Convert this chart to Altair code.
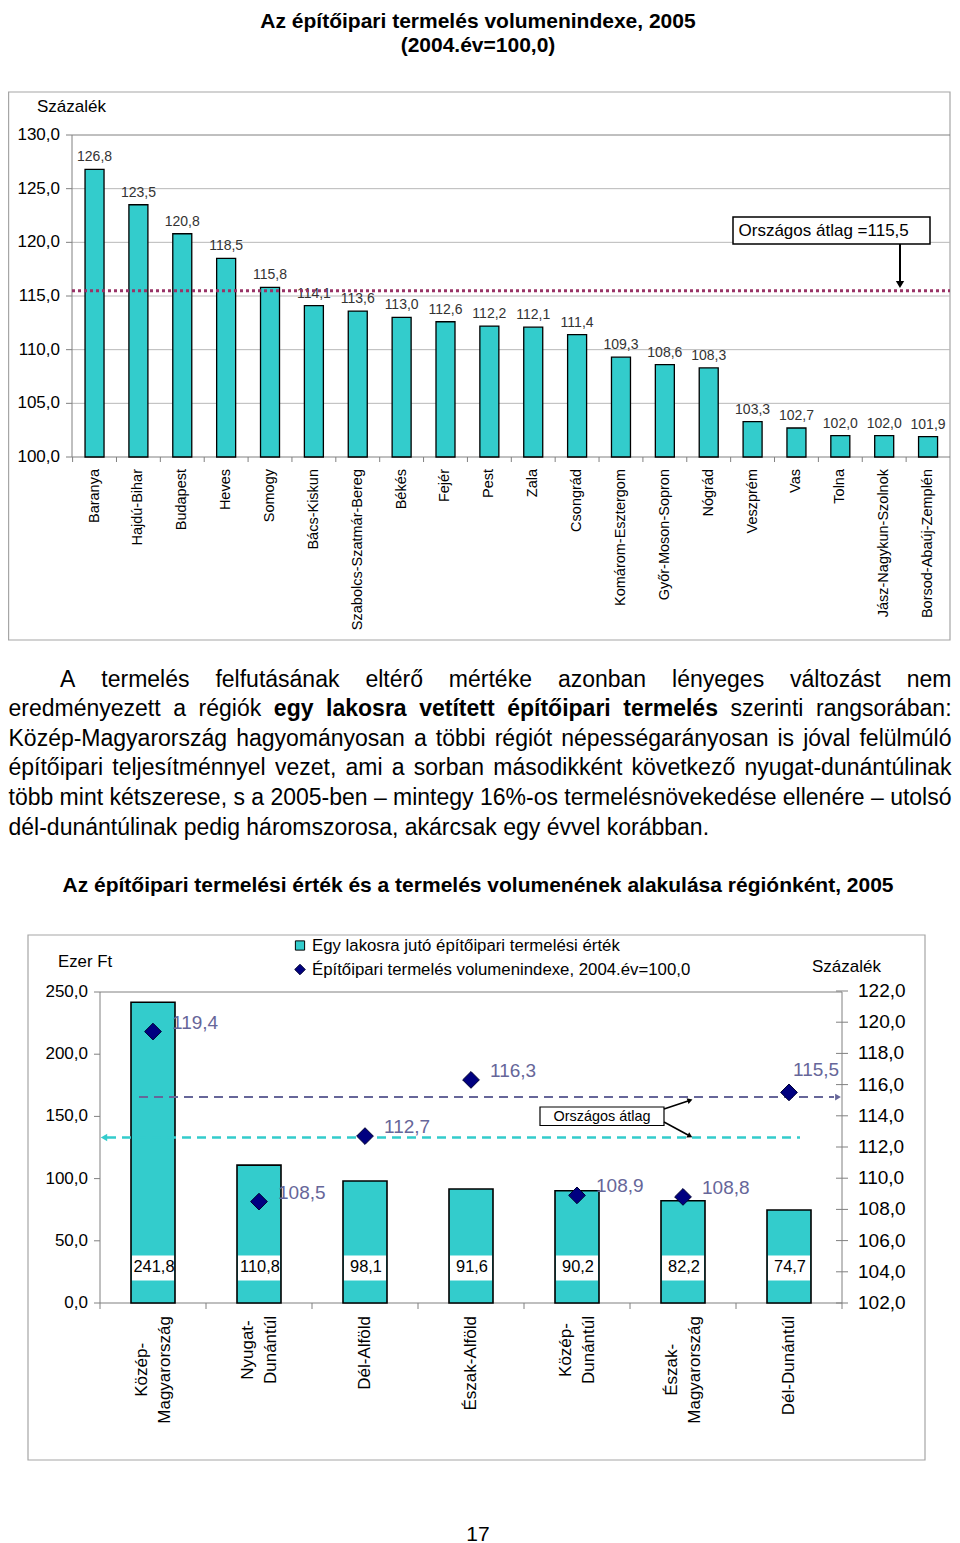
import unicodedata
import altair as alt
import pandas as pd

# ---------------- data ----------------
title1 = ["Az építőipari termelés volumenindexe, 2005", "(2004.év=100,0)"]
counties = ["Baranya", "Hajdú-Bihar", "Budapest", "Heves", "Somogy", "Bács-Kiskun",
            "Szabolcs-Szatmár-Bereg", "Békés", "Fejér", "Pest", "Zala", "Csongrád",
            "Komárom-Esztergom", "Győr-Moson-Sopron", "Nógrád", "Veszprém", "Vas",
            "Tolna", "Jász-Nagykun-Szolnok", "Borsod-Abaúj-Zemplén"]
county_index = [126.8, 123.5, 120.8, 118.5, 115.8, 114.1, 113.6, 113.0, 112.6, 112.2,
                112.1, 111.4, 109.3, 108.6, 108.3, 103.3, 102.7, 102.0, 102.0, 101.9]
national_index = 115.5
ticks1 = [100.0, 105.0, 110.0, 115.0, 120.0, 125.0, 130.0]
axis1_title = "Százalék"
note1 = "Országos átlag =115,5"

paragraph = [
    "A termelés felfutásának eltérő mértéke azonban lényeges változást nem",
    "eredményezett a régiók *egy lakosra vetített építőipari termelés* szerinti rangsorában:",
    "Közép-Magyarország hagyományosan a többi régiót népességarányosan is jóval felülmúló",
    "építőipari teljesítménnyel vezet, ami a sorban másodikként következő nyugat-dunántúlinak",
    "több mint kétszerese, s a 2005-ben – mintegy 16%-os termelésnövekedése ellenére – utolsó",
    "dél-dunántúlinak pedig háromszorosa, akárcsak egy évvel korábban.",
]

title2 = "Az építőipari termelési érték és a termelés volumenének alakulása régiónként, 2005"
regions = ["Közép-Magyarország", "Nyugat-Dunántúl", "Dél-Alföld", "Észak-Alföld",
           "Közép-Dunántúl", "Észak-Magyarország", "Dél-Dunántúl"]
region_labels = ["Közép-\nMagyarország", "Nyugat-\nDunántúl", "Dél-Alföld", "Észak-Alföld",
                 "Közép-\nDunántúl", "Észak-\nMagyarország", "Dél-Dunántúl"]
per_capita = [241.8, 110.8, 98.1, 91.6, 90.2, 82.2, 74.7]
volume = [119.4, 108.5, 112.7, 116.3, 108.9, 108.8, 115.5]
avg_per_capita = 133.0
avg_volume = 115.2
ticks_left = [0, 50, 100, 150, 200, 250]
ticks_right = [102, 104, 106, 108, 110, 112, 114, 116, 118, 120, 122]
legend2 = ["Egy lakosra jutó építőipari termelési érték",
           "Építőipari termelés volumenindexe, 2004.év=100,0"]
left_title2 = "Ezer Ft"
right_title2 = "Százalék"
note2 = "Országos átlag"
page_number = "17"

# ---------------- styling helpers ----------------
TEAL = "#33CCCC"
NAVY = "#000080"
SLATE = "#666699"
GRAY = "#808080"
FONT = "Liberation Sans"
PARA_SIZE = 23


def P(v):
    """page pixel -> canvas pixel (page has an 8px margin)"""
    return v - 8


def hu(v):
    return f"{v:.1f}".replace(".", ",")


_lower_n = [556, 556, 500, 556, 556, 278, 556, 556, 222, 222, 500, 222, 833, 556, 556, 556, 556, 333, 500, 278, 556, 500, 722, 500, 500, 500]
_upper_n = [667, 667, 722, 722, 667, 611, 778, 722, 278, 500, 667, 556, 833, 722, 778, 667, 778, 722, 667, 611, 722, 667, 944, 667, 667, 611]
_lower_b = [556, 611, 556, 611, 556, 333, 611, 611, 278, 278, 556, 278, 889, 611, 611, 611, 611, 389, 556, 333, 611, 556, 778, 556, 556, 500]
_upper_b = [722, 722, 722, 722, 667, 611, 778, 722, 278, 556, 722, 611, 833, 722, 778, 667, 778, 722, 667, 611, 722, 667, 944, 667, 667, 611]
_punct = {" ": 278, ",": 278, ".": 278, ":": 278, "-": 333, "–": 556, "%": 889, "=": 584, "(": 333, ")": 333}
NORM = dict(_punct)
BOLD = dict(_punct)
for i, c in enumerate("abcdefghijklmnopqrstuvwxyz"):
    NORM[c] = _lower_n[i]
    BOLD[c] = _lower_b[i]
for i, c in enumerate("ABCDEFGHIJKLMNOPQRSTUVWXYZ"):
    NORM[c] = _upper_n[i]
    BOLD[c] = _upper_b[i]
for d in "0123456789":
    NORM[d] = 556
    BOLD[d] = 556


def char_w(c, bold):
    tab = BOLD if bold else NORM
    if c in tab:
        return tab[c]
    if c in ("í", "Í"):
        return 278
    base = unicodedata.normalize("NFD", c)[0]
    return tab.get(base, 556)


def text_w(s, size, bold=False):
    return sum(char_w(c, bold) for c in s) * size / 1000.0


ONE = pd.DataFrame({"k": [0]})


def text_at(s, x, y, size, align="left", baseline="alphabetic", weight="normal", color="black"):
    return alt.Chart(ONE).mark_text(text=s, font=FONT, fontSize=size, align=align, baseline=baseline,
                                    fontWeight=weight, color=color).encode(
        x=alt.value(P(x)), y=alt.value(P(y)))


def rect_at(x1, y1, x2, y2, stroke, sw, fill="white", fill_opacity=0.0):
    return alt.Chart(ONE).mark_rect(fill=fill, fillOpacity=fill_opacity, stroke=stroke, strokeWidth=sw).encode(
        x=alt.value(P(x1)), x2=alt.value(P(x2)), y=alt.value(P(y1)), y2=alt.value(P(y2)))


def seg(x1, y1, x2, y2, color, sw, dash=None):
    kw = {"color": color, "strokeWidth": sw}
    if dash:
        kw["strokeDash"] = dash
    return alt.Chart(ONE).mark_rule(**kw).encode(
        x=alt.value(P(x1)), y=alt.value(P(y1)), x2=alt.value(P(x2)), y2=alt.value(P(y2)))


def head(x, y, shape, color, size, angle=0):
    return alt.Chart(ONE).mark_point(shape=shape, filled=True, fill=color, color=color, size=size,
                                     angle=angle, opacity=1).encode(x=alt.value(P(x)), y=alt.value(P(y)))


layers = []

# ================= chart 1 =================
df1 = pd.DataFrame({"county": counties, "value": county_index,
                    "label": [hu(v) for v in county_index]})
X1 = alt.Scale(domain=counties, range=[P(72.6), P(950)], paddingInner=0, paddingOuter=0)
Y1 = alt.Scale(domain=[ticks1[0], ticks1[-1]], range=[P(457), P(135)])


def xc1(**kw):
    return alt.X("county:N", scale=X1, axis=None, sort=None, **kw)


t1 = pd.DataFrame({"t": ticks1, "label": [hu(t) for t in ticks1]})
yt1 = alt.Y("t:Q", scale=Y1, axis=None)

layers += [
    rect_at(8.6, 92, 950, 640, "#a6a6a6", 1.2),
    text_at(title1[0], 478, 27.5, 21, align="center", weight="bold"),
    text_at(title1[1], 478, 52, 21, align="center", weight="bold"),
    text_at(axis1_title, 37, 112, 17),
    alt.Chart(t1.iloc[1:-1]).mark_rule(color="#b8b8b8", strokeWidth=1).encode(
        y=yt1, x=alt.value(P(72)), x2=alt.value(P(950))),
    alt.Chart(t1.iloc[-1:]).mark_rule(color=GRAY, strokeWidth=1).encode(
        y=yt1, x=alt.value(P(72)), x2=alt.value(P(950))),
    seg(72, 135, 72, 457, GRAY, 1),
    seg(72, 457, 950, 457, GRAY, 1),
    alt.Chart(t1).mark_rule(color=GRAY, strokeWidth=1).encode(
        y=yt1, x=alt.value(P(66)), x2=alt.value(P(72))),
    alt.Chart(t1).mark_text(align="right", baseline="middle", font=FONT, fontSize=17).encode(
        y=yt1, x=alt.value(P(60)), text="label:N"),
    alt.Chart(df1).mark_rule(color=GRAY, strokeWidth=1).encode(
        x=xc1(bandPosition=0), y=alt.value(P(457)), y2=alt.value(P(462))),
    alt.Chart(df1).mark_bar(size=19, fill=TEAL, stroke="black", strokeWidth=1.3).encode(
        x=xc1(), y=alt.Y("value:Q", scale=Y1, axis=None), y2=alt.datum(ticks1[0])),
    alt.Chart(df1).mark_text(dy=-12, baseline="middle", font=FONT, fontSize=14, color="#333333").encode(
        x=xc1(), y=alt.Y("value:Q", scale=Y1, axis=None), text="label:N"),
    alt.Chart(df1).mark_text(angle=270, align="right", baseline="middle", font=FONT, fontSize=14.5,
                             color="black").encode(
        x=xc1(), y=alt.value(P(469)), text="county:N"),
    alt.Chart(ONE).mark_rule(color="#993366", strokeWidth=3, strokeDash=[3, 3]).encode(
        y=alt.YDatum(national_index, scale=Y1, axis=None), x=alt.value(P(72)), x2=alt.value(P(950))),
    rect_at(733, 217, 930, 244, "black", 1.5, fill="white", fill_opacity=1.0),
    text_at(note1, 738.5, 231, 17, baseline="middle"),
    seg(900, 244, 900, 282, "black", 2),
    head(900, 284.5, "triangle-down", "black", 70),
]

# ================= paragraph =================
rows = []
for i, line in enumerate(paragraph):
    words = []
    bold = False
    for tok in line.split(" "):
        if tok.startswith("*"):
            bold = True
            tok = tok[1:]
        end = tok.endswith("*")
        if end:
            tok = tok[:-1]
        words.append((tok, bold))
        if end:
            bold = False
    x_start = 60 if i == 0 else 8.5
    widths = [text_w(w, PARA_SIZE, b) for w, b in words]
    if i < len(paragraph) - 1:
        gap = (951.5 - x_start - sum(widths)) / (len(words) - 1)
    else:
        gap = text_w(" ", PARA_SIZE)
    x = x_start
    for (w, b), ww in zip(words, widths):
        rows.append({"x": P(x), "y": P(686.5 + i * 29.6), "w": w, "bold": b})
        x += ww + gap
dfp = pd.DataFrame(rows)
for is_bold in (False, True):
    layers.append(
        alt.Chart(dfp[dfp["bold"] == is_bold]).mark_text(
            align="left", baseline="alphabetic", font=FONT, fontSize=PARA_SIZE,
            fontWeight="bold" if is_bold else "normal", color="black").encode(
            x=alt.X("x:Q", scale=None), y=alt.Y("y:Q", scale=None), text="w:N"))

# ================= chart 2 =================
df2 = pd.DataFrame({"region": regions, "label": region_labels, "pc": per_capita, "vol": volume,
                    "pc_label": [hu(v) for v in per_capita], "vol_label": [hu(v) for v in volume]})
df2["ylab"] = [P(1316) + max(text_w(s, 17) for s in l.split("\n")) / 2 for l in region_labels]
df2["lines"] = [len(l.split("\n")) for l in region_labels]
df2["last"] = [i == len(regions) - 1 for i in range(len(regions))]
X2 = alt.Scale(domain=regions, range=[P(100), P(842)], paddingInner=0, paddingOuter=0)
YL = alt.Scale(domain=[ticks_left[0], ticks_left[-1]], range=[P(1303), P(992)])
YR = alt.Scale(domain=[ticks_right[0], ticks_right[-1]], range=[P(1303), P(991)])


def xc2(**kw):
    return alt.X("region:N", scale=X2, axis=None, sort=None, **kw)


tl = pd.DataFrame({"t": ticks_left, "label": [hu(t) for t in ticks_left]})
tr = pd.DataFrame({"t": ticks_right, "label": [hu(t) for t in ticks_right]})
ytl = alt.Y("t:Q", scale=YL, axis=None)
ytr = alt.Y("t:Q", scale=YR, axis=None)
BOX = "M-1,-0.6L1,-0.6L1,0.6L-1,0.6Z"
LH2 = 23

layers += [
    text_at(title2, 478, 891.5, 21, align="center", weight="bold"),
    rect_at(28, 935, 925, 1460, "#a6a6a6", 1.2),
    # legend
    alt.Chart(ONE).mark_point(shape="square", filled=True, fill=TEAL, stroke="black", strokeWidth=1,
                              size=85, opacity=1).encode(x=alt.value(P(300)), y=alt.value(P(945.5))),
    text_at(legend2[0], 312, 945.5, 16.8, baseline="middle"),
    alt.Chart(ONE).mark_point(shape="diamond", filled=True, fill=NAVY, stroke="#000033", strokeWidth=1,
                              size=110, opacity=1).encode(x=alt.value(P(300)), y=alt.value(P(969.5))),
    text_at(legend2[1], 312, 969.5, 16.8, baseline="middle"),
    text_at(left_title2, 58, 961.5, 16.8, baseline="middle"),
    text_at(right_title2, 812, 966.5, 17, baseline="middle"),
    # frame of plot
    seg(100, 992, 842, 992, GRAY, 1),
    seg(100, 992, 100, 1303, GRAY, 1),
    seg(842, 992, 842, 1303, GRAY, 1),
    seg(100, 1303, 842, 1303, GRAY, 1.2),
    alt.Chart(tl).mark_rule(color=GRAY, strokeWidth=1).encode(
        y=ytl, x=alt.value(P(94)), x2=alt.value(P(100))),
    alt.Chart(tl).mark_text(align="right", baseline="middle", font=FONT, fontSize=17).encode(
        y=ytl, x=alt.value(P(88)), text="label:N"),
    alt.Chart(tr).mark_rule(color=GRAY, strokeWidth=1).encode(
        y=ytr, x=alt.value(P(836)), x2=alt.value(P(848))),
    alt.Chart(tr).mark_text(align="left", baseline="middle", font=FONT, fontSize=19).encode(
        y=ytr, x=alt.value(P(858)), text="label:N"),
    alt.Chart(df2).mark_rule(color=GRAY, strokeWidth=1).encode(
        x=xc2(bandPosition=0), y=alt.value(P(1303)), y2=alt.value(P(1309))),
    seg(842, 1303, 842, 1309, GRAY, 1),
    # bars
    alt.Chart(df2).mark_bar(size=44, fill=TEAL, stroke="black", strokeWidth=1.6).encode(
        x=xc2(), y=alt.Y("pc:Q", scale=YL, axis=None), y2=alt.datum(0)),
    alt.Chart(df2).mark_point(shape=BOX, filled=True, fill="white", size=42 * 42, opacity=1,
                              strokeWidth=0).encode(x=xc2(), y=alt.value(P(1268))),
    alt.Chart(df2).mark_text(baseline="middle", font=FONT, fontSize=16.4, color="black", dx=1).encode(
        x=xc2(), y=alt.value(P(1267)), text="pc_label:N"),
    # national average lines
    alt.Chart(ONE).mark_rule(color=SLATE, strokeWidth=2, strokeDash=[9, 6]).encode(
        y=alt.YDatum(avg_volume, scale=YR, axis=None), x=alt.value(P(139)), x2=alt.value(P(834))),
    alt.Chart(ONE).mark_point(shape="triangle-right", filled=True, fill=SLATE, size=45, opacity=1).encode(
        y=alt.YDatum(avg_volume, scale=YR, axis=None), x=alt.value(P(838))),
    alt.Chart(ONE).mark_rule(color=TEAL, strokeWidth=2.5, strokeDash=[9, 6]).encode(
        y=alt.YDatum(avg_per_capita, scale=YL, axis=None), x=alt.value(P(107)), x2=alt.value(P(800))),
    alt.Chart(ONE).mark_point(shape="triangle-left", filled=True, fill=TEAL, size=55, opacity=1).encode(
        y=alt.YDatum(avg_per_capita, scale=YL, axis=None), x=alt.value(P(104))),
    # volume diamonds
    alt.Chart(df2).mark_point(shape="diamond", filled=True, fill=NAVY, stroke="#000033", strokeWidth=1,
                              size=280, opacity=1).encode(
        x=xc2(), y=alt.Y("vol:Q", scale=YR, axis=None)),
    alt.Chart(df2[~df2["last"]]).mark_text(align="left", baseline="middle", dx=19, dy=-9, font=FONT,
                                          fontSize=19, color=SLATE).encode(
        x=xc2(), y=alt.Y("vol:Q", scale=YR, axis=None), text="vol_label:N"),
    # the label next to the right axis sits above-left of its marker, as in the original
    alt.Chart(df2[df2["last"]]).mark_text(align="left", baseline="middle", dx=4, dy=-22, font=FONT,
                                         fontSize=19, color=SLATE).encode(
        x=xc2(), y=alt.Y("vol:Q", scale=YR, axis=None), text="vol_label:N"),
    # annotation
    rect_at(540, 1107, 664, 1125.5, "black", 1.2, fill="white", fill_opacity=1.0),
    text_at(note2, 602, 1116.5, 14.4, align="center", baseline="middle"),
    seg(664, 1109, 688, 1101, "black", 1.5),
    head(690, 1100.3, "triangle-right", "black", 35, angle=341.6),
    seg(664, 1122, 688, 1135, "black", 1.5),
    head(690, 1136, "triangle-right", "black", 35, angle=28.4),
    text_at(page_number, 478, 1540.5, 21, align="center"),
]

# region labels: one layer per line count so that multi-line blocks are centred on the band
for n_lines in sorted(df2["lines"].unique()):
    layers.append(
        alt.Chart(df2[df2["lines"] == n_lines]).mark_text(
            angle=270, align="center", baseline="middle", lineBreak="\n", lineHeight=LH2,
            dy=-(n_lines - 1) * LH2 / 2, font=FONT, fontSize=17, color="black").encode(
            x=xc2(), y=alt.Y("ylab:Q", scale=None), text="label:N"))

chart = alt.layer(*layers).resolve_scale(x="independent", y="independent").properties(
    width=944, height=1535, padding=0, autosize=alt.AutoSizeParams(type="none")
).configure_view(strokeWidth=0)

chart.save("out.html", embed_options={"renderer": "svg", "actions": False})
